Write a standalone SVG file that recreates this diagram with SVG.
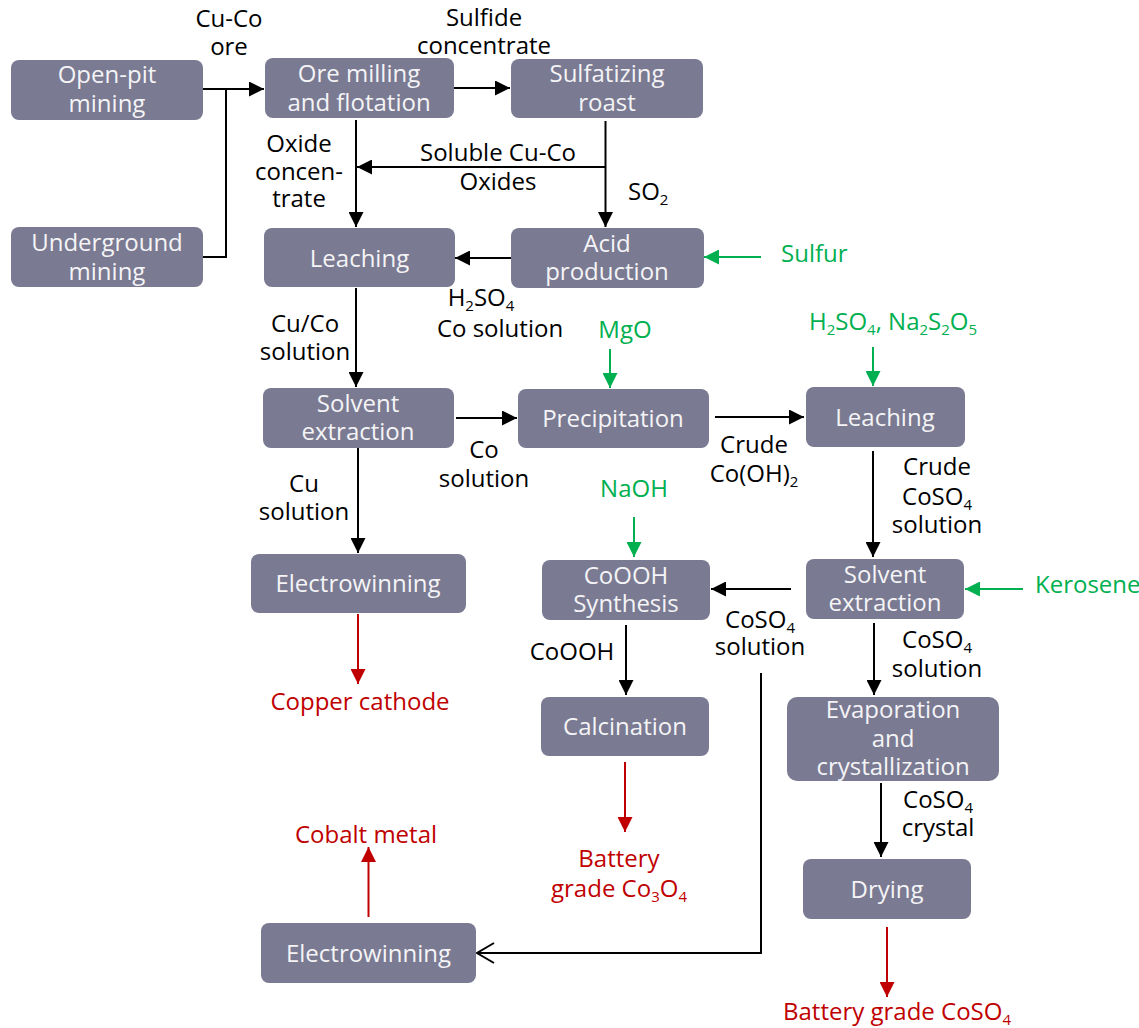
<svg xmlns="http://www.w3.org/2000/svg" width="1139" height="1028" viewBox="0 0 1139 1028">
<defs>
<style>
.n rect{fill:#7a7a92;}
.n text{fill:#f4f4f6;font-family:"Open Sans","Noto Sans","Liberation Sans",sans-serif;font-size:24px;text-anchor:middle;}
.t{font-family:"Open Sans","Noto Sans","Liberation Sans",sans-serif;font-size:24px;}
.lb{fill:#000;}
.g{fill:#00b050;}
.r{fill:#c00000;}
.m{text-anchor:middle;}
.c path{fill:none;stroke-width:2;}
.k{stroke:#000;}
.gs{stroke:#00b050;}
.rs{stroke:#c00000;}
</style>
<marker id="ak" markerWidth="15" markerHeight="15" refX="15" refY="7.5" orient="auto" markerUnits="userSpaceOnUse"><path d="M0,0 L15,7.5 L0,15 z" fill="#000"/></marker>
<marker id="ag" markerWidth="15" markerHeight="15" refX="15" refY="7.5" orient="auto" markerUnits="userSpaceOnUse"><path d="M0,0 L15,7.5 L0,15 z" fill="#00b050"/></marker>
<marker id="ar" markerWidth="15" markerHeight="15" refX="15" refY="7.5" orient="auto" markerUnits="userSpaceOnUse"><path d="M0,0 L15,7.5 L0,15 z" fill="#c00000"/></marker>
<marker id="ao" markerWidth="22" markerHeight="24" refX="19" refY="12" orient="auto" markerUnits="userSpaceOnUse"><path d="M2,2 L19,12 L2,22" fill="none" stroke="#000" stroke-width="2"/></marker>
</defs>

<g id="connectors" class="c">
<path class="k" d="M203,89 H226"/>
<path class="k" d="M203,257 H226 V89"/>
<path class="k" d="M226,89 H264" marker-end="url(#ak)"/>
<path class="k" d="M454,88 H510" marker-end="url(#ak)"/>
<path class="k" d="M356,120 V227" marker-end="url(#ak)"/>
<path class="k" d="M605.5,121 V227" marker-end="url(#ak)"/>
<path class="k" d="M605.5,167 H357" marker-end="url(#ak)"/>
<path class="k" d="M511,258 H455" marker-end="url(#ak)"/>
<path class="gs" d="M761,257 H704" marker-end="url(#ag)"/>
<path class="k" d="M356,288 V387" marker-end="url(#ak)"/>
<path class="k" d="M456,418 H517" marker-end="url(#ak)"/>
<path class="gs" d="M610,349 V388" marker-end="url(#ag)"/>
<path class="k" d="M715,417 H804" marker-end="url(#ak)"/>
<path class="gs" d="M873,347 V386" marker-end="url(#ag)"/>
<path class="k" d="M873,451 V557" marker-end="url(#ak)"/>
<path class="gs" d="M1023,589 H965" marker-end="url(#ag)"/>
<path class="k" d="M791,589 H711" marker-end="url(#ak)"/>
<path class="k" d="M874,623 V695" marker-end="url(#ak)"/>
<path class="k" d="M881,783 V857" marker-end="url(#ak)"/>
<path class="rs" d="M887,927 V997" marker-end="url(#ar)"/>
<path class="k" d="M358,448 V553" marker-end="url(#ak)"/>
<path class="rs" d="M358,614 V684" marker-end="url(#ar)"/>
<path class="gs" d="M634,517 V557" marker-end="url(#ag)"/>
<path class="k" d="M626,625 V695" marker-end="url(#ak)"/>
<path class="rs" d="M625,762 V832" marker-end="url(#ar)"/>
<path class="k" d="M761,673 V953 H477" marker-end="url(#ao)"/>
<path class="rs" d="M368.5,917 V847" marker-end="url(#ar)"/>
</g>

<g id="open-pit" class="n"><rect x="11" y="60" width="192" height="60" rx="8"/><text><tspan x="107" y="83">Open-pit</tspan><tspan x="107" y="112">mining</tspan></text></g>
<g id="underground" class="n"><rect x="11" y="227" width="192" height="60" rx="8"/><text><tspan x="107" y="251">Underground</tspan><tspan x="107" y="280">mining</tspan></text></g>
<g id="ore-milling" class="n"><rect x="265" y="58" width="189" height="60" rx="8"/><text><tspan x="359" y="82">Ore milling</tspan><tspan x="359" y="111">and flotation</tspan></text></g>
<g id="sulfatizing" class="n"><rect x="511" y="59" width="192" height="59" rx="8"/><text><tspan x="607" y="82">Sulfatizing</tspan><tspan x="607" y="111">roast</tspan></text></g>
<g id="leaching1" class="n"><rect x="264" y="228" width="191" height="59" rx="8"/><text x="359.5" y="267">Leaching</text></g>
<g id="acid" class="n"><rect x="511" y="228" width="193" height="60" rx="8"/><text><tspan x="607" y="252">Acid</tspan><tspan x="607" y="280">production</tspan></text></g>
<g id="sx1" class="n"><rect x="263" y="388" width="191" height="60" rx="8"/><text><tspan x="358" y="412">Solvent</tspan><tspan x="358" y="440">extraction</tspan></text></g>
<g id="precipitation" class="n"><rect x="518" y="389" width="191" height="59" rx="8"/><text x="613" y="427">Precipitation</text></g>
<g id="leaching2" class="n"><rect x="806" y="387" width="159" height="60" rx="8"/><text x="885" y="426">Leaching</text></g>
<g id="ew1" class="n"><rect x="251" y="554" width="215" height="59" rx="8"/><text x="358" y="592">Electrowinning</text></g>
<g id="cooh" class="n"><rect x="542" y="560" width="168" height="60" rx="8"/><text><tspan x="626" y="584">CoOOH</tspan><tspan x="626" y="612">Synthesis</tspan></text></g>
<g id="sx2" class="n"><rect x="806" y="559" width="158" height="60" rx="8"/><text><tspan x="885" y="583">Solvent</tspan><tspan x="885" y="611">extraction</tspan></text></g>
<g id="calcination" class="n"><rect x="541" y="697" width="168" height="59" rx="8"/><text x="625" y="735">Calcination</text></g>
<g id="evap" class="n"><rect x="787" y="697" width="212" height="84" rx="10"/><text><tspan x="893" y="718">Evaporation</tspan><tspan x="893" y="747">and</tspan><tspan x="893" y="775">crystallization</tspan></text></g>
<g id="drying" class="n"><rect x="803" y="859" width="168" height="60" rx="8"/><text x="887" y="898">Drying</text></g>
<g id="ew2" class="n"><rect x="261" y="923" width="215" height="60" rx="8"/><text x="368.5" y="962">Electrowinning</text></g>

<g id="labels" class="t">
<text class="lb m"><tspan x="229" y="27">Cu-Co</tspan><tspan x="229" y="55">ore</tspan></text>
<text class="lb m"><tspan x="484" y="26">Sulfide</tspan><tspan x="484" y="54">concentrate</tspan></text>
<text class="lb m"><tspan x="299" y="152">Oxide</tspan><tspan x="299" y="180">concen-</tspan><tspan x="299" y="207">trate</tspan></text>
<text class="lb m"><tspan x="498" y="161">Soluble Cu-Co</tspan><tspan x="498" y="190">Oxides</tspan></text>
<text class="lb" x="628" y="200">SO<tspan font-size="15" dy="5">2</tspan></text>
<text class="lb m"><tspan x="481" y="306">H<tspan font-size="15" dy="5">2</tspan><tspan dy="-5">SO</tspan><tspan font-size="15" dy="5">4</tspan></tspan><tspan x="500" y="337">Co solution</tspan></text>
<text class="lb m"><tspan x="305" y="332">Cu/Co</tspan><tspan x="305" y="360">solution</tspan></text>
<text class="lb m"><tspan x="484" y="458">Co</tspan><tspan x="484" y="487">solution</tspan></text>
<text class="lb m"><tspan x="754" y="453">Crude</tspan><tspan x="754" y="482">Co(OH)<tspan font-size="15" dy="5">2</tspan></tspan></text>
<text class="lb m"><tspan x="304" y="492">Cu</tspan><tspan x="304" y="520">solution</tspan></text>
<text class="lb m"><tspan x="937" y="475">Crude</tspan><tspan x="937" y="505">CoSO<tspan font-size="15" dy="5">4</tspan></tspan><tspan x="937" y="533">solution</tspan></text>
<text class="lb m"><tspan x="760" y="628">CoSO<tspan font-size="15" dy="5">4</tspan></tspan><tspan x="760" y="655">solution</tspan></text>
<text class="lb m"><tspan x="937" y="648">CoSO<tspan font-size="15" dy="5">4</tspan></tspan><tspan x="937" y="677">solution</tspan></text>
<text class="lb m" x="572" y="660">CoOOH</text>
<text class="lb m"><tspan x="938" y="808">CoSO<tspan font-size="15" dy="5">4</tspan></tspan><tspan x="938" y="836">crystal</tspan></text>
<text class="g" x="781" y="262">Sulfur</text>
<text class="g m" x="625" y="338">MgO</text>
<text class="g m" x="893" y="330">H<tspan font-size="15" dy="5">2</tspan><tspan dy="-5">SO</tspan><tspan font-size="15" dy="5">4</tspan><tspan dy="-5">, Na</tspan><tspan font-size="15" dy="5">2</tspan><tspan dy="-5">S</tspan><tspan font-size="15" dy="5">2</tspan><tspan dy="-5">O</tspan><tspan font-size="15" dy="5">5</tspan></text>
<text class="g m" x="634" y="497">NaOH</text>
<text class="g" x="1035" y="593">Kerosene</text>
<text class="r m" x="360" y="710">Copper cathode</text>
<text class="r m" x="366" y="843">Cobalt metal</text>
<text class="r m"><tspan x="619" y="867">Battery</tspan><tspan x="619" y="897">grade Co<tspan font-size="15" dy="5">3</tspan><tspan dy="-5">O</tspan><tspan font-size="15" dy="5">4</tspan></tspan></text>
<text class="r m" x="897" y="1020">Battery grade CoSO<tspan font-size="15" dy="5">4</tspan></text>
</g>
</svg>
